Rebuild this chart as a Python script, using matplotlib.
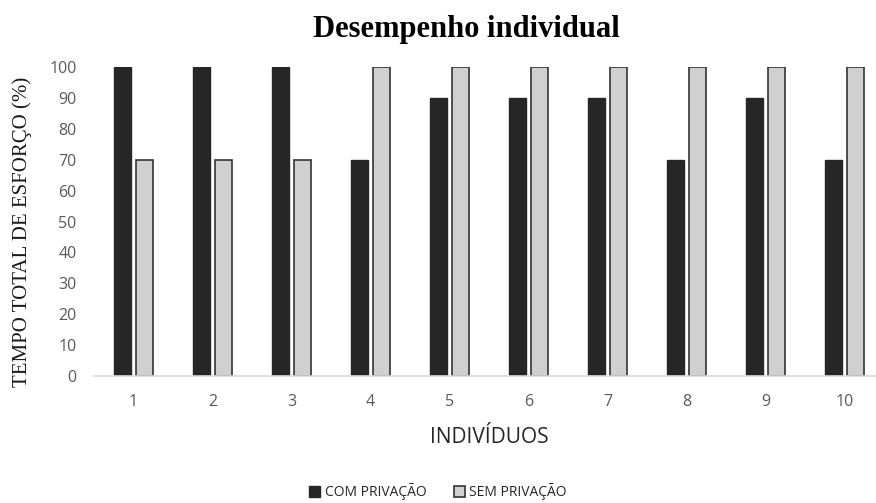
import matplotlib.pyplot as plt
import numpy as np

individuos = ["1", "2", "3", "4", "5", "6", "7", "8", "9", "10"]
com_privacao = [100, 100, 100, 70, 90, 90, 90, 70, 90, 70]
sem_privacao = [70, 70, 70, 100, 100, 100, 100, 100, 100, 100]

fig = plt.figure(figsize=(8.76, 5.03), dpi=100)
ax = fig.add_axes([94 / 876, 1 - 376 / 503, 790 / 876, 309 / 503])

x = np.arange(1, len(individuos) + 1)
w = 0.215
off = 0.139
ax.bar(x - off, com_privacao, width=w, color="#262626", edgecolor="#262626",
       linewidth=1, label="COM PRIVAÇÃO")
ax.bar(x + off, sem_privacao, width=w, color="#d0d0d0", edgecolor="#333333",
       linewidth=1.2, label="SEM PRIVAÇÃO")

ax.set_xlim(0.5, 10.5)
ax.set_ylim(0, 100)
ax.set_xticks(x)
ax.set_xticklabels(individuos)
ax.set_yticks(range(0, 101, 10))

for s in ["top", "right", "left"]:
    ax.spines[s].set_visible(False)
ax.spines["bottom"].set_color("#d9d9d9")
ax.spines["bottom"].set_linewidth(1.2)
ax.tick_params(axis="both", length=0, colors="#595959")
ax.tick_params(axis="x", pad=13, labelsize=11.5)
ax.tick_params(axis="y", pad=12.5, labelsize=11.5)
for lbl in ax.get_xticklabels() + ax.get_yticklabels():
    lbl.set_family("Open Sans")

ax.set_xlabel("INDIVÍDUOS", fontsize=15, family="Open Sans", color="#262626",
              labelpad=12)
fig.text(22 / 876, 1 - 232 / 503, "TEMPO TOTAL DE ESFORÇO (%)", rotation=90,
         ha="center", va="center", fontsize=15, family="Liberation Serif",
         color="#1a1a1a")
fig.text(466 / 876, 1 - 30 / 503, "Desempenho individual", ha="center",
         va="center", fontsize=22, fontweight="bold", family="Liberation Serif",
         color="black")

fig.legend(loc="center", bbox_to_anchor=(438 / 876, 1 - 492 / 503), ncol=2,
           frameon=False, prop={"family": "Open Sans", "size": 10},
           handlelength=0.8, handleheight=0.8, handletextpad=0.3,
           columnspacing=2.0, labelcolor="#262626")

fig.savefig("out.png", dpi=100)
